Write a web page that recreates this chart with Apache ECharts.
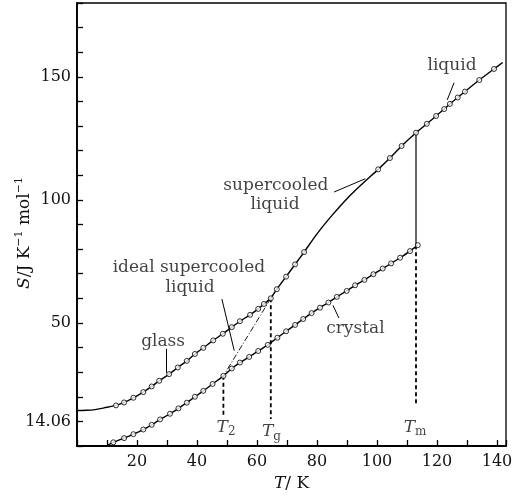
<!DOCTYPE html>
<html><head><meta charset="utf-8">
<script src="https://cdn.jsdelivr.net/npm/echarts@6/dist/echarts.min.js"></script>
<style>html,body{margin:0;padding:0;background:#fff}#c{width:523px;height:497px}</style>
</head><body><div id="c"></div>
<script>
// ---- data (T / K, S / J K^-1 mol^-1) ----
const glassMarked = [[13,16.5],[15.7,17.7],[18.8,19.6],[22.1,21.9],[24.9,24.2],[27.4,26.5],[30.7,29.2],[33.6,31.9],[36.6,34.6],[39.3,37.4],[42.1,39.9],[45.4,42.9],[48.6,45.6],[51.6,48.3],[54.3,50.7],[57.7,53.3],[60.4,55.7],[62.3,57.7],[64.6,60]];
const glassPlain = [[0,14.4],[3,14.5],[6,14.8],[9,15.5]];
const liquidMarked = [[66.6,63.7],[69.7,68.8],[72.7,73.8],[75.7,78.8],[100.4,112.4],[104.3,117.0],[108.2,121.9],[113,127.3],[116.6,130.9],[119.7,134.1],[122.4,136.9],[124.3,139.0],[126.9,141.6],[129.3,144.0],[134.1,148.7],[139,153.2]];
const liquidPlain = [[64.6,60],[80,86.2],[85,93.7],[90,100.5],[95,106.4],[141.9,155.8]];
const crystalMarked = [[12.1,1.5],[15.7,3.2],[18.8,4.8],[22.1,6.7],[24.9,8.6],[27.7,10.8],[31,13.1],[33.8,15.3],[36.6,17.6],[39.3,20.0],[42.1,22.4],[45.2,25.2],[48.8,28.5],[51.6,31.5],[54.3,33.9],[57.4,36.2],[60.4,38.6],[63.6,41.1],[66.8,44],[69.7,46.6],[72.7,49.2],[75.4,51.6],[78.2,54],[81,56.2],[83.8,58.3],[86.6,60.6],[89.9,63],[92.7,65.3],[95.8,67.5],[98.8,69.8],[101.9,72.1],[104.7,74.2],[107.7,76.5],[111,79.2],[113.6,81.6]];
const crystalPlain = [[10.3,0.4]];
// characteristic temperatures
const T2 = 48.8, S_T2 = 28.5;
const Tg = 64.6, S_Tg = 60;
const Tm = 113, S_TmCrystal = 81.6, S_TmLiquid = 127.3;
const dropEnd = [12, 11, 17];           // lower ends of dashed drop lines (T2, Tg, Tm)
const tNames = ['2', 'g', 'm'];
const tLabelAt = [[49.7,7.6],[64.8,5.8],[112.7,7.6]];
// tick labels
const xLabelValues = [20,40,60,80,100,120,140];
const yLabelValues = [10,50,100,150];
const yLabelTexts = ['14.06','50','100','150'];
// annotations
const annoTexts = ['ideal supercooled','liquid','glass','crystal','supercooled','liquid','liquid'];
const annoAt = [[37.3,72.6],[37.7,64.5],[28.7,42.3],[92.8,47.6],[66.3,106],[66,98],[125,154.4]];
const arrows = [[[48.3,59.7],[52.4,38.8]],[[29.7,39.5],[29.7,29.8]],[[87.3,52],[85.3,57.2]],[[85.7,103.2],[96.1,108.6]],[[125.7,147.6],[123.4,140.6]]];

// ---- chart ----
const serif = 'DejaVu Serif';
const byT = (a,b)=>a[0]-b[0];
const lineBase = {type:'line', showSymbol:false, smooth:0.3, lineStyle:{color:'#000', width:1.4}, silent:true, animation:false, z:2};
const circle = {type:'scatter', symbol:'circle', symbolSize:5, itemStyle:{color:'#fff', borderColor:'#000', borderWidth:1}, silent:true, animation:false, z:4};
const seg = (pts, style) => Object.assign({}, lineBase, {smooth:false, data:pts, lineStyle:Object.assign({color:'#000', width:1.4}, style)});

const chart = echarts.init(document.getElementById('c'), null, {renderer:'canvas'});
const series = [
  Object.assign({}, lineBase, {data:[...glassPlain, ...glassMarked].sort(byT)}),
  Object.assign({}, lineBase, {data:[...liquidPlain, ...liquidMarked].sort(byT)}),
  Object.assign({}, lineBase, {data:[...crystalPlain, ...crystalMarked].sort(byT)}),
  seg([[Tm,S_TmCrystal],[Tm,S_TmLiquid]], {width:1.2}),
  seg([[Tg,S_Tg],[T2,S_T2]], {width:0.9, type:[6,2,1,2]}),
  seg([[T2,S_T2],[T2,dropEnd[0]]], {width:1.8, type:[4,3]}),
  seg([[Tg,S_Tg],[Tg,dropEnd[1]]], {width:1.8, type:[4,3]}),
  seg([[Tm,S_TmCrystal],[Tm,dropEnd[2]]], {width:1.8, type:[4,3]}),
  Object.assign({}, circle, {data:glassMarked}),
  Object.assign({}, circle, {data:liquidMarked}),
  Object.assign({}, circle, {data:crystalMarked}),
  {type:'scatter', symbolSize:0, silent:true, animation:false, z:5,
   data: annoTexts.map((t,i)=>({name:t, value:annoAt[i]})),
   label:{show:true, position:'inside', formatter:p=>p.name, color:'#111', fontFamily:serif, fontSize:17}},
  {type:'scatter', symbolSize:0, silent:true, animation:false, z:5,
   data: tNames.map((t,i)=>({name:t, value:tLabelAt[i]})),
   label:{show:true, position:'inside', formatter:p=>'{i|T}{s|'+p.name+'}', color:'#111',
     rich:{i:{fontFamily:serif, fontStyle:'italic', fontSize:17, lineHeight:22},
           s:{fontFamily:serif, fontSize:12, lineHeight:12, verticalAlign:'bottom'}}}},
  {type:'line', data:[], silent:true, animation:false,
   markLine:{silent:true, animation:false, symbol:['none','arrow'], symbolSize:[0,7], label:{show:false},
     lineStyle:{color:'#000', width:1, type:'solid'},
     emphasis:{disabled:true},
     data: arrows.map(a=>[{coord:a[0]},{coord:a[1]}])}}
];

chart.setOption({
  animation:false,
  backgroundColor:'#fff',
  grid:{left:77, right:17, top:3, bottom:51, show:true, borderColor:'#000', borderWidth:1.3, backgroundColor:'transparent'},
  xAxis:{type:'value', min:0, max:143, interval:10,
    axisLine:{show:true, onZero:false, lineStyle:{color:'#000', width:1.8}},
    axisTick:{show:true, inside:true, length:6, lineStyle:{color:'#000', width:1.3}},
    splitLine:{show:false},
    axisLabel:{margin:8, color:'#111', fontFamily:serif, fontSize:16, formatter:v=>xLabelValues.includes(v)?String(v):''},
    name:'{i|T}{n|/ K}', nameLocation:'middle', nameGap:27,
    nameTextStyle:{rich:{i:{fontFamily:serif, fontStyle:'italic', fontSize:17, color:'#111'}, n:{fontFamily:serif, fontSize:17, color:'#111'}}}
  },
  yAxis:{type:'value', min:0, max:180, interval:10,
    axisLine:{show:true, onZero:false, lineStyle:{color:'#000', width:1.8}},
    axisTick:{show:true, inside:true, length:6, lineStyle:{color:'#000', width:1.3}},
    splitLine:{show:false},
    axisLabel:{margin:6, color:'#111', fontFamily:serif, fontSize:16, formatter:v=>{const i=yLabelValues.indexOf(v); return i>=0?yLabelTexts[i]:'';}}
  },
  graphic:[{type:'text', x:25, y:233, rotation:Math.PI/2, silent:true,
    style:{text:'{i|S}{n|/J K}{s|−1}{n| mol}{s|−1}', align:'center', verticalAlign:'middle',
      rich:{i:{fontFamily:serif, fontStyle:'italic', fontSize:17, lineHeight:22, fill:'#111'},
            n:{fontFamily:serif, fontSize:17, lineHeight:22, fill:'#111'},
            s:{fontFamily:serif, fontSize:11, lineHeight:12, verticalAlign:'top', fill:'#111'}}}}],
  series: series
});
</script>
</body></html>
